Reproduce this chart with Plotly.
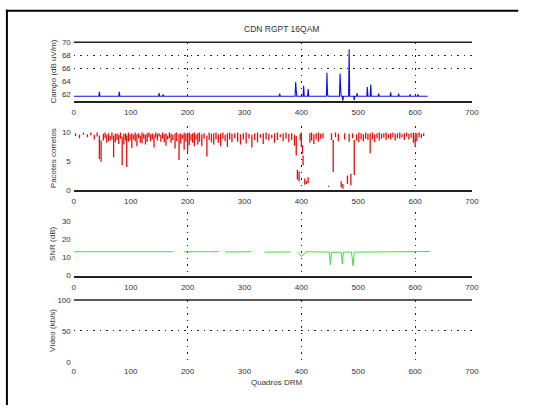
import plotly.graph_objects as go

# ---------------- data ----------------
title_text = "CDN RGPT 16QAM"
xlabel_text = "Quadros DRM"
ylabels = ["Campo (dB uV/m)", "Pacotes corretos", "SNR (dB)", "Vídeo (kb/s)"]
x_ticks = [0, 100, 200, 300, 400, 500, 600, 700]

# Field strength polyline vertices (frame, dBuV/m)
campo_x = [0, 44, 45, 46, 79, 80, 81, 149, 150, 151, 156, 157, 158, 361, 362, 363,
           389, 390, 391, 392, 403, 404, 405, 411, 412, 413, 444, 445, 446, 447,
           467, 468, 469, 470, 472, 473, 474, 483, 484, 485, 492, 493, 494, 497, 498, 499,
           515, 516, 517, 521, 522, 523, 535, 536, 537, 556, 557, 558, 570, 571, 572,
           590, 591, 592, 604, 605, 606, 622]
campo_y = [61.7, 61.7, 62.4, 61.7, 61.7, 62.4, 61.7, 61.7, 62.2, 61.7, 61.7, 62.0, 61.7, 61.7, 62.1, 61.7,
           61.7, 63.9, 62.6, 61.7, 61.7, 63.3, 61.7, 61.7, 62.8, 61.7, 61.7, 65.3, 62.0, 61.7,
           61.7, 65.2, 63.0, 61.7, 61.7, 61.0, 61.7, 61.7, 68.9, 61.7, 61.7, 61.1, 61.7, 61.7, 62.2, 61.7,
           61.7, 63.1, 61.7, 61.7, 63.5, 61.7, 61.7, 62.1, 61.7, 61.7, 62.3, 61.7, 61.7, 62.1, 61.7,
           61.7, 62.0, 61.7, 61.7, 62.0, 61.7, 61.7]

# Correct packets: vertical segments per frame (frame, top, bottom)
pac_x = [3, 10, 17, 24, 30, 36, 41, 45, 48, 52, 55, 58, 61, 64, 67, 70, 73, 76, 79, 82,
         85, 88, 91, 93, 96, 99, 102, 105, 108, 111, 114, 117, 120, 123, 126, 129, 132, 135,
         138, 141, 144, 147, 150, 153, 156, 159, 162, 165, 168, 171, 174, 178, 181, 185, 188,
         191, 194, 197, 200, 203, 206, 209, 212, 215, 218, 221, 225, 229, 234, 238, 242, 246,
         250, 254, 258, 262, 266, 270, 274, 278, 283, 288, 293, 298, 303, 308, 313, 318, 323,
         328, 333, 338, 343, 348, 353, 358, 363, 368, 373, 378, 383, 388, 391, 393, 396, 398,
         400, 402, 403, 406, 409, 412, 415, 418, 422, 426, 430, 434, 438, 448, 453, 456, 460,
         465, 470, 473, 476, 481, 484, 487, 490, 493, 497, 501, 505, 509, 513, 517, 521, 525,
         529, 533, 537, 541, 545, 549, 553, 557, 561, 565, 569, 573, 577, 581, 585, 589, 593,
         597, 600, 603, 607, 611, 615]
pac_top = [9.9, 9.6, 10, 9.7, 10, 9.6, 10, 9.5, 8.6, 9.8, 10, 9.6, 9.9, 9.4, 10, 9.5, 9.8, 9.9, 9.6, 10,
           9.3, 9.8, 9.9, 9.5, 10, 9.7, 9.9, 9.6, 10, 9.7, 9.9, 9.5, 10, 9.8, 9.6, 9.9, 10, 9.7,
           9.9, 9.6, 10, 9.8, 9.9, 9.6, 10, 9.7, 9.9, 9.5, 10, 9.8, 9.6, 9.9, 10, 9.7, 9.9,
           9.6, 10, 9.8, 9.9, 10, 9.7, 9.9, 10, 9.6, 9.9, 10, 9.7, 9.9, 9.5, 10, 9.8, 9.9,
           10, 9.7, 9.9, 10, 9.6, 9.9, 10, 9.8, 9.9, 10, 9.7, 9.9, 10, 9.8, 9.6, 9.9, 10,
           9.7, 9.9, 10, 9.8, 9.6, 9.9, 10, 9.7, 9.9, 10, 9.8, 9.9, 9.6, 9.4, 3.5, 3.2, 9.8,
           10, 7.8, 6.0, 2.0, 1.6, 2.2, 9.9, 10, 9.7, 9.9, 10, 9.8, 9.9, 0.7, 9.9, 8.7, 10,
           9.8, 1.5, 1.0, 9.9, 2.5, 9.8, 2.8, 9.9, 8.7, 9.7, 10, 9.9, 9.7, 10, 9.8, 9.9, 10,
           9.7, 9.9, 10, 9.8, 9.9, 10, 9.7, 9.9, 10, 9.8, 9.9, 10, 9.7, 9.9, 10, 9.8, 9.9,
           10, 9.7, 9.9, 10, 9.8, 9.9]
pac_bot = [9.4, 9.0, 9.6, 9.2, 9.5, 8.8, 9.3, 5.4, 4.9, 8.6, 9.0, 8.2, 8.5, 8.6, 8.8, 5.7, 8.3, 8.7, 8.0, 8.9,
           4.3, 7.9, 8.6, 4.0, 8.4, 8.7, 7.3, 8.8, 8.5, 7.6, 9.0, 8.2, 8.1, 8.9, 7.9, 8.4, 9.2, 8.5,
           8.8, 7.4, 9.1, 8.6, 9.3, 8.4, 8.9, 8.3, 7.7, 8.8, 9.0, 8.2, 8.7, 7.2, 8.5, 5.2, 8.1,
           8.9, 7.0, 8.4, 6.5, 7.8, 8.6, 8.2, 7.6, 8.8, 7.9, 8.4, 7.6, 8.9, 5.8, 8.7, 8.3, 7.9,
           8.8, 8.2, 7.6, 8.9, 8.5, 7.5, 8.8, 8.3, 9.0, 8.4, 7.9, 8.8, 8.1, 8.9, 7.4, 8.7, 8.3,
           9.1, 8.0, 8.8, 8.6, 9.0, 8.2, 8.7, 9.2, 8.5, 8.9, 8.3, 8.7, 7.7, 6.0, 1.8, 1.5, 8.6,
           7.5, 6.3, 4.3, 0.9, 1.0, 1.2, 8.2, 8.6, 8.0, 8.8, 8.4, 8.9, 9.0, 0.5, 8.7, 3.1, 9.2,
           8.5, 0.4, 0.2, 8.8, 1.0, 8.4, 0.8, 9.0, 2.6, 8.6, 8.3, 8.8, 8.5, 8.9, 8.7, 6.4, 8.8,
           8.3, 9.0, 8.6, 8.9, 9.1, 8.7, 9.0, 8.8, 9.2, 8.6, 9.0, 8.9, 9.2, 8.7, 9.3, 8.8, 9.1,
           8.2, 7.6, 8.5, 9.2, 9.0, 9.4]

# SNR polyline (None = gap)
snr_x = [0, 60, 61, 62, 174, None, 194, 255, None, 266, 312, None, 335, 381, None,
         393, 397, 400, 403, 406, 410, 449, 451, 453, 470, 472, 474, 488, 491, 493, 626]
snr_y = [13.2, 13.2, 13.6, 13.2, 13.2, None, 13.2, 13.2, None, 13.1, 13.2, None, 13.0, 13.1, None,
         13.1, 12.0, 10.5, 11.5, 12.5, 13.2, 13.0, 6.0, 12.8, 13.0, 6.5, 13.0, 13.0, 5.5, 13.0, 13.3]

# Video panel has no data drawn
video_x = []
video_y = []

# ---------------- layout helpers ----------------
W, H = 540, 410
def fx(p):
    return p / W
def fy(p):
    return 1 - p / H

X0, X1 = 73, 478
panels = [
    dict(top=39, bot=99, rng=[61, 70], ticks=[62, 64, 66, 68, 70], grid=[66, 68], line=True),
    dict(top=125, bot=190, rng=[0, 11.1], ticks=[0, 5, 10], grid=[], line=True),
    dict(top=213, bot=277.7, rng=[0, 35], ticks=[0, 10, 20, 30], grid=[], line=True),
    dict(top=302.7, bot=365.9, rng=[0, 100], ticks=[0, 50, 100], grid=[50], line=False),
]

font = dict(family="Liberation Sans, Arial, sans-serif", size=8, color="#333")
dotdash = "1.5px,5px"

fig = go.Figure()

px_, py_ = [], []
for x, t, b in zip(pac_x, pac_top, pac_bot):
    px_ += [x, x, None]
    py_ += [t, b, None]

fig.add_trace(go.Scatter(x=campo_x, y=campo_y, mode="lines",
                         line=dict(color="#1010e0", width=1.1), xaxis="x", yaxis="y"))
fig.add_trace(go.Scatter(x=px_, y=py_, mode="lines",
                         line=dict(color="#e01010", width=1.3), xaxis="x2", yaxis="y2"))
fig.add_trace(go.Scatter(x=snr_x, y=snr_y, mode="lines",
                         line=dict(color="#40dd40", width=1), xaxis="x3", yaxis="y3"))
fig.add_trace(go.Scatter(x=video_x, y=video_y, mode="lines",
                         line=dict(color="#000000", width=1), xaxis="x4", yaxis="y4"))

layout = dict(width=W, height=H, margin=dict(l=0, r=0, t=0, b=0),
              paper_bgcolor="white", plot_bgcolor="white", showlegend=False, font=font)

for i, p in enumerate(panels, start=1):
    xs = "" if i == 1 else str(i)
    layout["xaxis" + xs] = dict(
        domain=[fx(X0), fx(X1)], range=[0, 700], tickvals=x_ticks, anchor="y" + xs,
        showline=p["line"], linecolor="#222", linewidth=1.5, showgrid=False, zeroline=False,
        ticks="", ticklabelstandoff=3, tickfont=font,
        minor=dict(tickvals=[200, 400, 600], showgrid=True, gridcolor="#222",
                   griddash=dotdash, gridwidth=1, ticks=""))
    ymin = dict(showgrid=False)
    if p["grid"]:
        ymin = dict(tickvals=p["grid"], showgrid=True, gridcolor="#222",
                    griddash=dotdash, gridwidth=1, ticks="")
    layout["yaxis" + xs] = dict(
        domain=[fy(p["bot"]), fy(p["top"])], range=p["rng"], tickvals=p["ticks"],
        anchor="x" + xs, showline=False, showgrid=False, zeroline=False,
        ticks="", ticklabelstandoff=2, tickfont=font, minor=ymin)

shapes = [
    dict(type="line", xref="paper", yref="paper", x0=fx(X0), x1=fx(X1),
         y0=fy(39), y1=fy(39), line=dict(color="#222", width=1.5)),
    dict(type="line", xref="paper", yref="paper", x0=fx(X0), x1=fx(X1),
         y0=fy(302.7), y1=fy(302.7), line=dict(color="#222", width=1.5)),
    dict(type="line", xref="paper", yref="paper", x0=fx(5), x1=fx(5),
         y0=fy(6), y1=0, line=dict(color="black", width=2)),
    dict(type="line", xref="paper", yref="paper", x0=fx(4), x1=fx(525),
         y0=fy(7), y1=fy(7), line=dict(color="black", width=2)),
]
layout["shapes"] = shapes

ann = [dict(text=title_text, x=fx(284), y=fy(26), xref="paper", yref="paper",
            showarrow=False, xanchor="center", yanchor="middle",
            font=dict(family=font["family"], size=8.5, color="#333")),
       dict(text=xlabel_text, x=fx(279), y=fy(387), xref="paper", yref="paper",
            showarrow=False, xanchor="center", yanchor="middle", font=font)]
for lbl, p in zip(ylabels, panels):
    ann.append(dict(text=lbl, x=fx(52), y=fy((p["top"] + p["bot"]) / 2),
                    xref="paper", yref="paper", showarrow=False, textangle=-90,
                    xanchor="center", yanchor="middle", font=font))
layout["annotations"] = ann

fig.update_layout(**layout)
fig.write_html("out.html")
